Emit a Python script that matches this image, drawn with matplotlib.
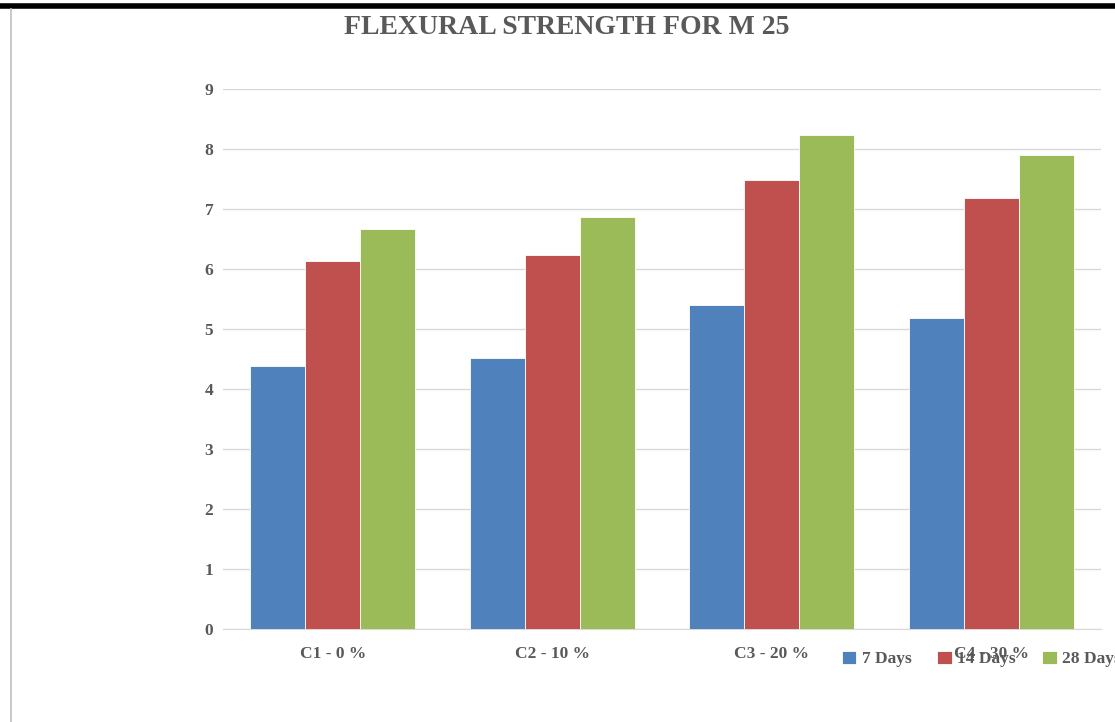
import numpy as np
import matplotlib.pyplot as plt
from matplotlib.lines import Line2D

# data
categories = ['C1 - 0 %', 'C2 - 10 %', 'C3 - 20 %', 'C4 - 30 %']
days_7 = [4.38, 4.52, 5.40, 5.18]
days_14 = [6.13, 6.23, 7.48, 7.18]
days_28 = [6.67, 6.87, 8.23, 7.90]
series_names = ['7 Days', '14 Days', '28 Days']
colors = ['#4F81BD', '#C0504D', '#9BBB59']

plt.rcParams['font.family'] = ['Liberation Serif', 'DejaVu Serif']

fig = plt.figure(figsize=(11.15, 7.22), dpi=100)
ax = fig.add_axes([223 / 1115, 1 - 629 / 722, (1101 - 223) / 1115, (629 - 89) / 722])

x = np.arange(len(categories))
bar_width = 0.25
for i, (vals, c) in enumerate(zip([days_7, days_14, days_28], colors)):
    ax.bar(x + (i - 1) * bar_width, vals, width=bar_width, color=c,
           edgecolor='white', linewidth=0.6, zorder=3, label=series_names[i])

ax.set_xlim(-0.5, 3.5)
ax.set_ylim(0, 9)
ax.set_yticks(range(0, 10))
ax.set_xticks(x)
ax.set_xticklabels(categories)
ax.grid(axis='y', color='#D9D9D9', linewidth=1, zorder=0)
ax.tick_params(length=0, labelsize=12.5, labelcolor='#595959')
ax.tick_params(axis='y', pad=7)
ax.tick_params(axis='x', pad=12)
for lab in ax.get_xticklabels() + ax.get_yticklabels():
    lab.set_fontweight('bold')
for s in ['top', 'right', 'left']:
    ax.spines[s].set_visible(False)
ax.spines['bottom'].set_color('#D9D9D9')

fig.text(567 / 1115, 1 - 28 / 722, 'FLEXURAL STRENGTH FOR M 25', ha='center', va='center',
         fontsize=20, fontweight='bold', color='#595959')

leg = fig.legend(loc='center left', bbox_to_anchor=(826 / 1115, 1 - 659 / 722), ncol=3,
                 frameon=False, handlelength=0.85, handleheight=0.85, handletextpad=0.3,
                 columnspacing=1.5, prop={'size': 12.5, 'weight': 'bold'})
for t in leg.get_texts():
    t.set_color('#595959')

# page decorations around the pasted chart
fig.add_artist(Line2D([0, 1], [1 - 6 / 722, 1 - 6 / 722], color='black', linewidth=4))
fig.add_artist(Line2D([11 / 1115, 11 / 1115], [0, 1 - 9 / 722], color='#BFBFBF', linewidth=1.2))

fig.savefig('out.png', dpi=100)
